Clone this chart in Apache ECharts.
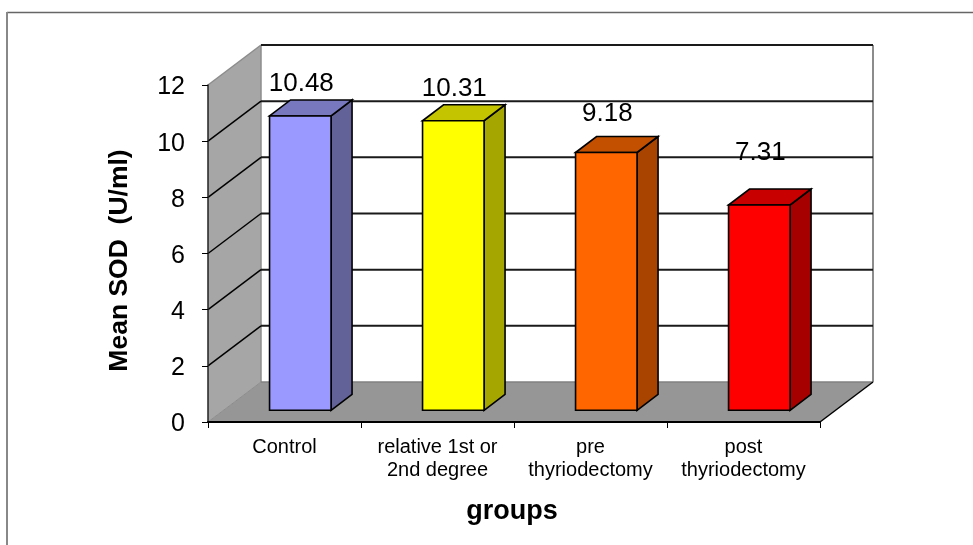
<!DOCTYPE html>
<html>
<head>
<meta charset="utf-8">
<style>html,body{margin:0;padding:0;background:#fff}#c{width:973px;height:545px}</style>
<script src="https://cdn.jsdelivr.net/npm/echarts@6/dist/echarts.min.js"></script>
</head>
<body>
<div id="c"></div>
<script>
const categories = ['Control', 'relative 1st or\n2nd degree', 'pre\nthyriodectomy', 'post\nthyriodectomy'];
const values = [10.48, 10.31, 9.18, 7.31];
const yTicks = [0, 2, 4, 6, 8, 10, 12];
const frontColors = ['#9999ff', '#ffff00', '#ff6600', '#ff0000'];
const sideColors = ['#626299', '#a6a600', '#a84300', '#a60000'];
const topColors = ['#7878bf', '#c4c400', '#c25000', '#c80000'];

// Oblique projection of the chart box and of the bars inside it (pixels)
const WALL = {x: 53, y: -40};
const INSET = {x: 15.8, y: -11.7};
const BAR = {x: 21, y: -16, w: 61.5};
// Hand-placed lift of each value label above its bar top
const labelLift = [16, 16, 23, 36];
const FONT = '"Liberation Sans", Arial, sans-serif';

function poly(points, fill, stroke, lineWidth) {
  return {type: 'polygon', shape: {points}, style: {fill, stroke: stroke || 'none', lineWidth: lineWidth || 0, lineJoin: 'miter'}};
}
function line(a, b, stroke, lineWidth) {
  return {type: 'line', shape: {x1: a[0], y1: a[1], x2: b[0], y2: b[1]}, style: {stroke, lineWidth}};
}

function renderWalls(params) {
  const g = params.coordSys, L = g.x, R = g.x + g.width, T = g.y, B = g.y + g.height;
  const d = WALL;
  return {type: 'group', children: [
    poly([[L + d.x, T + d.y], [R + d.x, T + d.y], [R + d.x, B + d.y], [L + d.x, B + d.y]], '#ffffff'),
    poly([[L, B], [L, T], [L + d.x, T + d.y], [L + d.x, B + d.y]], '#a6a6a6'),
    poly([[L, B], [R, B], [R + d.x, B + d.y], [L + d.x, B + d.y]], '#969696'),
    line([L, T], [L + d.x, T + d.y], '#8c8c8c', 1.5),
    line([L + d.x, T + d.y], [L + d.x, B + d.y], '#8c8c8c', 1.5),
    line([R + d.x, T + d.y], [R + d.x, B + d.y], '#8c8c8c', 2),
    line([L, B], [L + d.x, B + d.y], '#8c8c8c', 1),
    line([L + d.x, B + d.y], [R + d.x, B + d.y], '#808080', 1.5),
    line([R, B], [R + d.x, B + d.y], '#000000', 1.5)
  ]};
}

function renderGrid(params, api) {
  const v = api.value(0);
  if (v === 0) return {type: 'group', children: []};
  const g = params.coordSys, R = g.x + g.width, L = g.x;
  const y = api.coord([0, v])[1];
  const children = [line([L + WALL.x, y + WALL.y], [R + WALL.x, y + WALL.y], '#1a1a1a', 2)];
  if (v !== yTicks[yTicks.length - 1]) children.push(line([L, y], [L + WALL.x, y + WALL.y], '#000000', 1.5));
  return {type: 'group', children};
}

function renderBar(params, api) {
  const i = params.dataIndex, v = api.value(1);
  const c = api.coord([i, v]), b = api.coord([i, 0]);
  const x0 = c[0] + INSET.x - BAR.w / 2, x1 = x0 + BAR.w;
  const yT = c[1] + INSET.y, yB = b[1] + INSET.y;
  const dx = BAR.x, dy = BAR.y, s = '#000000', w = 1.6;
  return {type: 'group', children: [
    poly([[x1, yB], [x1 + dx, yB + dy], [x1 + dx, yT + dy], [x1, yT]], sideColors[i], s, w),
    poly([[x0, yT], [x0 + dx, yT + dy], [x1 + dx, yT + dy], [x1, yT]], topColors[i], s, w),
    poly([[x0, yB], [x1, yB], [x1, yT], [x0, yT]], frontColors[i], s, w),
    {type: 'text', z2: 10, style: {
      text: v.toFixed(2), x: (x0 + x1) / 2 + 1, y: yT + dy - labelLift[i],
      fill: '#000', font: '26px ' + FONT, textAlign: 'center', textVerticalAlign: 'middle'
    }}
  ]};
}

const chart = echarts.init(document.getElementById('c'), null, {renderer: 'canvas'});
chart.setOption({
  animation: false,
  backgroundColor: '#ffffff',
  graphic: [
    {type: 'line', z: -1, shape: {x1: 7, y1: 12.5, x2: 973, y2: 12.5}, style: {stroke: '#666666', lineWidth: 1.5}},
    {type: 'line', z: -1, shape: {x1: 7, y1: 12, x2: 7, y2: 545}, style: {stroke: '#888888', lineWidth: 2}}
  ],
  grid: {left: 208, top: 85, width: 612, height: 337, containLabel: false},
  xAxis: {
    type: 'category', data: categories, z: 5,
    name: 'groups', nameLocation: 'middle', nameGap: 76,
    nameTextStyle: {fontFamily: FONT, fontSize: 27, fontWeight: 'bold', color: '#000', padding: [0, 4, 0, 0]},
    axisLine: {lineStyle: {color: '#000', width: 2}},
    axisTick: {show: true, length: 6, lineStyle: {color: '#000', width: 1}},
    splitLine: {show: false},
    axisLabel: {interval: 0, margin: 14, fontFamily: FONT, fontSize: 20, lineHeight: 23, color: '#000'}
  },
  yAxis: {
    type: 'value', min: 0, max: 12, interval: 2, z: 5,
    name: 'Mean SOD  (U/ml)', nameLocation: 'middle', nameGap: 75, nameRotate: 90,
    nameTextStyle: {fontFamily: FONT, fontSize: 26.5, fontWeight: 'bold', color: '#000', padding: [0, 14, 0, 0]},
    axisLine: {show: true, lineStyle: {color: '#222', width: 1.5}},
    axisTick: {show: true, length: 6, lineStyle: {color: '#000', width: 1}},
    splitLine: {show: false},
    axisLabel: {margin: 23, fontFamily: FONT, fontSize: 25, color: '#000', verticalAlign: 'top', lineHeight: 5}
  },
  series: [
    {type: 'custom', z: 1, silent: true, coordinateSystem: 'cartesian2d', renderItem: renderWalls, data: [[0, 0]], encode: {x: 0, y: 1}},
    {type: 'custom', z: 2, silent: true, coordinateSystem: 'cartesian2d', renderItem: renderGrid, data: yTicks.map(v => [v]), encode: {y: 0}},
    {type: 'custom', z: 3, silent: true, coordinateSystem: 'cartesian2d', renderItem: renderBar, data: values.map((v, i) => [i, v]), encode: {x: 0, y: 1}}
  ]
});
</script>
</body>
</html>
